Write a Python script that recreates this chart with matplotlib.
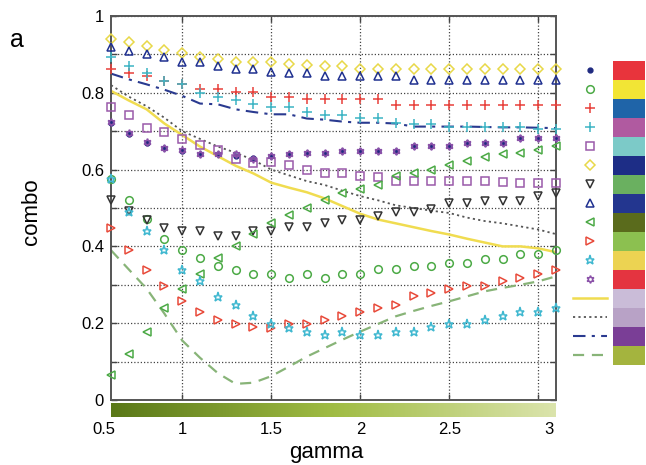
import numpy as np
import matplotlib
matplotlib.use("Agg")
import matplotlib.pyplot as plt
from matplotlib.colors import LinearSegmentedColormap
from matplotlib.patches import Rectangle

plt.rcParams["font.family"] = ["Liberation Sans", "DejaVu Sans"]

# sample index along the gamma sweep (26 settings, 0.5 ... 3.0)
sample = np.arange(1, 27)

dot_navy = [0.721, 0.692, 0.670, 0.657, 0.648, 0.641, 0.640, 0.636, 0.630, 0.635, 0.640, 0.642, 0.642,
            0.648, 0.648, 0.648, 0.648, 0.661, 0.661, 0.662, 0.668, 0.668, 0.668, 0.681, 0.681, 0.681]
circle_green = [0.575, 0.520, 0.472, 0.420, 0.390, 0.370, 0.350, 0.339, 0.328, 0.328, 0.319, 0.328, 0.319,
                0.328, 0.328, 0.341, 0.341, 0.348, 0.348, 0.358, 0.358, 0.368, 0.368, 0.379, 0.379, 0.390]
plus_red = [0.862, 0.851, 0.843, 0.831, 0.822, 0.811, 0.811, 0.802, 0.802, 0.790, 0.790, 0.783, 0.783,
            0.783, 0.783, 0.783, 0.768, 0.768, 0.768, 0.768, 0.768, 0.768, 0.768, 0.768, 0.768, 0.768]
plus_teal = [0.892, 0.870, 0.851, 0.831, 0.822, 0.800, 0.790, 0.781, 0.770, 0.762, 0.762, 0.750, 0.742,
             0.742, 0.735, 0.735, 0.722, 0.720, 0.718, 0.712, 0.712, 0.712, 0.712, 0.712, 0.705, 0.705]
square_purple = [0.762, 0.741, 0.709, 0.699, 0.679, 0.663, 0.651, 0.628, 0.618, 0.620, 0.611, 0.600, 0.592,
                 0.592, 0.583, 0.582, 0.570, 0.570, 0.570, 0.570, 0.570, 0.570, 0.568, 0.566, 0.566, 0.566]
diamond_yellow = [0.940, 0.931, 0.922, 0.912, 0.903, 0.892, 0.889, 0.881, 0.881, 0.881, 0.875, 0.872, 0.871,
                  0.871, 0.863, 0.863, 0.863, 0.862, 0.863, 0.862, 0.862, 0.862, 0.862, 0.862, 0.862, 0.862]
tri_down_gray = [0.520, 0.492, 0.470, 0.448, 0.439, 0.439, 0.428, 0.428, 0.439, 0.439, 0.450, 0.450, 0.460,
                 0.470, 0.470, 0.479, 0.490, 0.490, 0.498, 0.512, 0.512, 0.518, 0.518, 0.518, 0.531, 0.540]
tri_up_navy = [0.918, 0.909, 0.902, 0.892, 0.881, 0.881, 0.870, 0.862, 0.862, 0.853, 0.852, 0.851, 0.843,
               0.843, 0.843, 0.843, 0.843, 0.834, 0.834, 0.834, 0.834, 0.834, 0.834, 0.834, 0.834, 0.834]
tri_left_green = [0.065, 0.120, 0.178, 0.239, 0.289, 0.328, 0.370, 0.400, 0.431, 0.461, 0.483, 0.500, 0.520,
                  0.540, 0.550, 0.561, 0.583, 0.592, 0.599, 0.611, 0.622, 0.634, 0.640, 0.642, 0.651, 0.661]
tri_right_red = [0.448, 0.390, 0.339, 0.298, 0.259, 0.228, 0.209, 0.198, 0.191, 0.187, 0.198, 0.198, 0.209,
                 0.219, 0.228, 0.239, 0.248, 0.270, 0.279, 0.289, 0.298, 0.298, 0.309, 0.319, 0.328, 0.339]
star_cyan = [0.575, 0.490, 0.439, 0.390, 0.339, 0.309, 0.268, 0.248, 0.219, 0.198, 0.187, 0.178, 0.170,
             0.178, 0.170, 0.170, 0.178, 0.178, 0.191, 0.198, 0.198, 0.209, 0.219, 0.228, 0.228, 0.239]
hexagram_purple = [0.724, 0.695, 0.672, 0.657, 0.650, 0.641, 0.640, 0.640, 0.628, 0.635, 0.640, 0.642, 0.642,
                   0.648, 0.648, 0.648, 0.648, 0.661, 0.661, 0.662, 0.668, 0.668, 0.668, 0.681, 0.681, 0.681]

line_solid_yellow = [0.805, 0.780, 0.757, 0.720, 0.690, 0.660, 0.635, 0.610, 0.590, 0.566, 0.553, 0.541, 0.525,
                     0.505, 0.485, 0.470, 0.460, 0.450, 0.440, 0.431, 0.420, 0.410, 0.400, 0.400, 0.395, 0.385]
line_dotted_gray = [0.820, 0.790, 0.765, 0.735, 0.700, 0.680, 0.660, 0.644, 0.625, 0.600, 0.585, 0.570, 0.560,
                    0.545, 0.531, 0.520, 0.507, 0.500, 0.493, 0.487, 0.475, 0.466, 0.460, 0.452, 0.444, 0.432]
line_dashdot_navy = [0.850, 0.835, 0.822, 0.808, 0.792, 0.772, 0.770, 0.757, 0.750, 0.744, 0.744, 0.733, 0.730,
                     0.725, 0.722, 0.722, 0.720, 0.712, 0.712, 0.712, 0.712, 0.711, 0.710, 0.710, 0.709, 0.708]
line_dashed_green = [0.390, 0.340, 0.290, 0.225, 0.155, 0.110, 0.070, 0.042, 0.045, 0.062, 0.087, 0.113, 0.135,
                     0.157, 0.178, 0.198, 0.218, 0.232, 0.245, 0.257, 0.270, 0.283, 0.292, 0.300, 0.309, 0.322]

y_ticks = [0.0, 0.1, 0.2, 0.3, 0.4, 0.5, 0.6, 0.7, 0.8, 0.9, 1.0]
y_tick_labels = ["0", "", "0.2", "", "0.4", "", "0.6", "", "0.8", "", "1"]
grid_x = [5, 10, 15, 20, 25]
gamma_labels = ["0.5", "1", "1.5", "2", "2.5", "3"]
gamma_label_pos = [0.6, 5.0, 10.0, 15.05, 20.0, 25.6]

legend_colors = ["#e8343c", "#f2e535", "#1f64a8", "#b05aa0", "#7ccac8", "#1d2d86", "#6ab060", "#23368f",
                 "#5a6b1c", "#8cc050", "#ecd352", "#e43440", "#cabcd8", "#b8a2c6", "#7a3e96", "#a4b43e"]

hexagram = (6, 1, 0)
marker_series = [
    (dot_navy, ".", "#1f2a80", True),
    (circle_green, "o", "#4caa46", False),
    (plus_red, "+", "#e8403a", False),
    (plus_teal, "+", "#3cb4c4", False),
    (square_purple, "s", "#9a5aaa", False),
    (diamond_yellow, "D", "#e8d848", False),
    (tri_down_gray, "v", "#333333", False),
    (tri_up_navy, "^", "#1f3090", False),
    (tri_left_green, "<", "#4caa46", False),
    (tri_right_red, ">", "#e84a3a", False),
    (star_cyan, "*", "#40b8d0", False),
    (hexagram_purple, hexagram, "#8a50a8", False),
]
line_series = [
    (line_solid_yellow, "-", "#f0dc50", 1.8),
    (line_dotted_gray, (0, (1.2, 1.8)), "#555555", 1.3),
    (line_dashdot_navy, (0, (6, 3, 1.5, 3)), "#2a3a90", 1.5),
    (line_dashed_green, (0, (5, 3.5)), "#88b478", 1.6),
]


def marker_size(mk):
    if mk in ("+", "*"):
        return 6.5
    if mk == hexagram:
        return 5.5
    return 5.5


fig = plt.figure(figsize=(6.46, 4.65), dpi=100)
W, H = 646.0, 465.0

ax = fig.add_axes([111 / W, 1 - 400 / H, 445 / W, 384 / H])
ax.set_xlim(1, 26)
ax.set_ylim(0, 1)

for vals, ls, col, lw in line_series:
    ax.plot(sample, vals, linestyle=ls, color=col, lw=lw, zorder=2)

for vals, mk, col, filled in marker_series:
    if filled:
        ax.plot(sample, vals, linestyle="none", marker=mk, color=col, ms=7, zorder=3, clip_on=False)
    else:
        ax.plot(sample, vals, linestyle="none", marker=mk, mfc="none", mec=col, mew=1.1,
                ms=marker_size(mk), zorder=3, clip_on=False)

ax.set_yticks(y_ticks)
ax.set_yticklabels(y_tick_labels, fontsize=12)
ax.set_xticks(grid_x)
ax.set_xticklabels([])
ax.tick_params(direction="in", length=4, width=1, color="#444444", right=True, top=True, pad=5)
ax.grid(True, linestyle=(0, (1, 1.6)), color="#444444", lw=0.9)
for s in ax.spines.values():
    s.set_color("#555555")
    s.set_linewidth(1.4)
ax.set_ylabel("combo", fontsize=16)
ax.yaxis.set_label_coords(-0.155, 0.49)

# gamma colour strip under the axes
cmap = LinearSegmentedColormap.from_list("gamma_strip", ["#5a7818", "#a0bc44", "#dbe4ac"])
cax = fig.add_axes([111 / W, 1 - 417 / H, 445 / W, 14 / H])
cax.imshow(np.linspace(0, 1, 256)[None, :], aspect="auto", cmap=cmap, extent=[1, 26, 0, 1])
cax.set_xlim(1, 26)
cax.axis("off")
for lab, pos in zip(gamma_labels, gamma_label_pos):
    cax.text(pos, -0.35, lab, ha="center", va="top", fontsize=12, clip_on=False)
fig.text(326 / W, 1 - 452 / H, "gamma", ha="center", va="center", fontsize=16)

fig.text(10 / W, 1 - 40 / H, "a", ha="left", va="center", fontsize=18)

# legend column: symbol keys and colour swatches
lax = fig.add_axes([565 / W, 1 - 365 / H, 81 / W, 304.3 / H])
lax.set_xlim(0, 81)
lax.set_ylim(16, 0)
lax.axis("off")
for i, c in enumerate(legend_colors):
    lax.add_patch(Rectangle((47.7, i), 32.3, 1, color=c, lw=0))
for i, (vals, mk, col, filled) in enumerate(marker_series):
    if filled:
        lax.plot([25], [i + 0.5], marker=mk, color=col, ms=7, linestyle="none")
    else:
        lax.plot([25], [i + 0.5], marker=mk, mfc="none", mec=col, mew=1.1, ms=marker_size(mk),
                 linestyle="none")
for j, (vals, ls, col, lw) in enumerate(line_series):
    r = len(marker_series) + j + 0.5
    lax.plot([8, 42], [r, r], linestyle=ls, color=col, lw=lw)

fig.savefig("out.png", dpi=100)
